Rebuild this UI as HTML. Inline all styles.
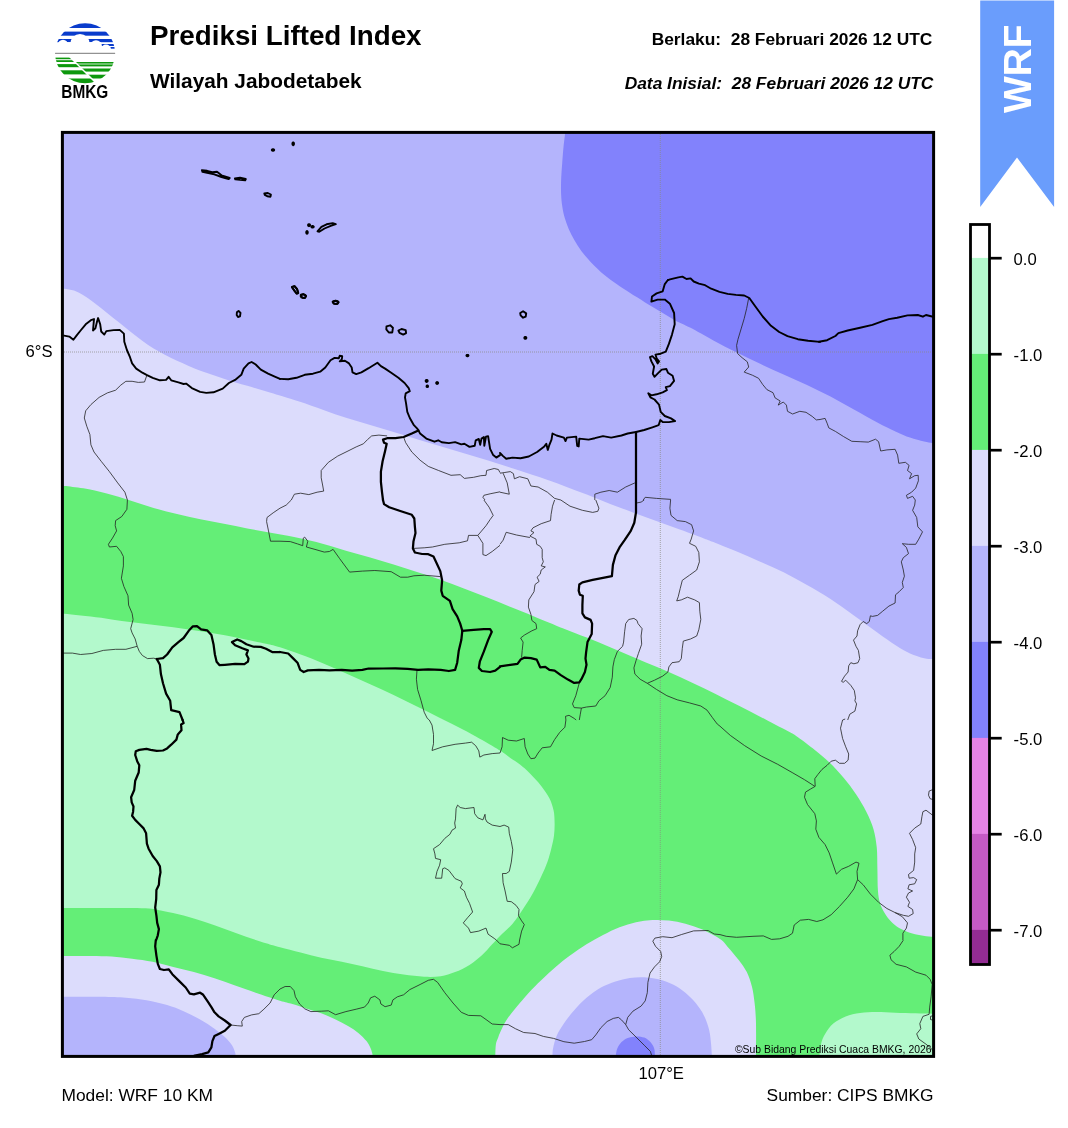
<!DOCTYPE html>
<html lang="id"><head><meta charset="utf-8"><title>Prediksi Lifted Index</title>
<style>
html,body{margin:0;padding:0;background:#fff}
body{width:1068px;height:1128px;position:relative;overflow:hidden;font-family:"Liberation Sans",sans-serif;color:#000}
.t{position:absolute;white-space:pre;line-height:1;margin:0}
svg{position:absolute;left:0;top:0}
svg text{font-family:"Liberation Sans",sans-serif;fill:#000}
</style></head><body>
<svg width="1068" height="1128" viewBox="0 0 1068 1128">
<defs><clipPath id="mapclip"><rect x="62" y="132" width="872" height="925"/></clipPath>
<clipPath id="logoclip"><circle cx="85.1" cy="53.3" r="30"/></clipPath><clipPath id="lgl"><path d="M50 54H66L97 85H50Z"/></clipPath><clipPath id="lgr"><path d="M68 54H120V85H99Z"/></clipPath></defs>
<g clip-path="url(#mapclip)">
<rect x="60" y="130" width="876" height="929" fill="#64ee77"/>
<path d="M58 485.6C59 485.7 60 485.4 64.2 485.9C68.4 486.3 76.3 487.1 83.4 488.3C90.5 489.6 99 491.4 106.8 493.4C114.6 495.4 122.4 498 130.2 500.4C138 502.8 145.8 505.6 153.6 507.9C161.4 510.2 169.2 512.1 177 514C184.8 515.9 192.6 517.6 200.4 519.2C208.2 520.8 216.1 522.2 223.9 523.8C231.7 525.3 239.5 527 247.3 528.5C255.1 530 262.9 531.3 270.7 532.7C278.5 534.1 285.3 535.1 294.1 537C302.9 538.9 314.6 541.6 323.4 543.9C332.2 546.2 339 548.6 346.8 550.9C354.6 553.2 362.4 555.2 370.2 557.5C378 559.8 385.8 562.1 393.6 564.5C401.4 566.9 409.2 569.5 417 572C424.8 574.5 432.7 577 440.5 579.7C448.3 582.4 456.1 585.4 463.9 588.4C471.7 591.4 479.5 594.4 487.3 597.5C495.1 600.6 502.9 603.9 510.7 607C518.5 610.1 525.3 612.8 534.1 616.4C542.9 620 554.6 624.9 563.4 628.4C572.2 631.9 579 634.5 586.8 637.6C594.6 640.8 602.4 644 610.2 647.3C618 650.6 625.8 653.9 633.6 657.2C641.4 660.5 649.2 663.7 657 667C664.8 670.3 672.7 673.7 680.5 677.2C688.3 680.8 696.1 684.5 703.9 688.3C711.7 692.1 719.5 696.1 727.3 700C735.1 703.9 742.9 707.7 750.7 711.7C758.5 715.7 767.6 720.6 774.1 724C780.6 727.4 786 730 790 732.3C794 734.5 794.2 734.6 798.3 737.5C802.4 740.4 809.6 745.8 814.8 749.9C819.9 754 824.4 757.6 829.2 762.2C834 766.8 839.1 772.4 843.6 777.7C848.1 783 852.2 788.5 856 794.2C859.8 799.9 863.4 805.9 866.3 811.7C869.2 817.5 871.8 823.2 873.5 829.2C875.2 835.2 876.1 841.1 876.8 847.7C877.4 854.3 877.2 861.8 877.4 868.9C877.6 876 877.5 884.5 877.9 890.2C878.3 895.9 878.9 899.3 880 903C881.1 906.7 882.5 909.6 884.3 912.6C886.1 915.6 888.1 918.5 890.6 921.1C893.1 923.7 895.9 926.2 899.1 928.1C902.3 930 906.2 931.6 909.8 932.8C913.3 934 916.8 934.6 920.4 935.3C924 936 928.6 936.5 931.5 936.8C934.4 937.1 936.9 937.1 938 937.2L938 128L58 128Z" fill="#dcdcfc"/>
<path d="M58 287.5C59 287.7 61.5 288.2 64.2 288.7C66.9 289.2 70.8 289.4 74 290.5C77.2 291.6 79.9 293.1 83.4 295.2C86.9 297.3 91.2 300.5 95.1 303.4C99 306.3 102.9 309.7 106.8 312.8C110.7 315.9 114.6 319 118.5 322.1C122.4 325.2 126.3 328.4 130.2 331.5C134.1 334.6 138 337.6 141.9 340.4C145.8 343.2 149.7 346 153.6 348.4C157.5 350.8 161.4 352.8 165.3 354.9C169.2 357 173.1 359 177 360.8C180.9 362.6 184.8 364.2 188.7 365.9C192.6 367.6 196.5 369.3 200.4 370.8C204.3 372.3 208.3 373.5 212.2 374.8C216.1 376.1 220 377.5 223.9 378.8C227.8 380.1 231.7 381.3 235.6 382.5C239.5 383.7 243.4 384.7 247.3 385.8C251.2 386.9 255.1 388.1 259 389.3C262.9 390.5 266.8 391.6 270.7 392.8C274.6 394 277.5 394.8 282.4 396.3C287.3 397.8 293.2 399.5 300 401.8C306.8 404.1 315.6 407.2 323.4 409.9C331.2 412.6 339 415.6 346.8 418.1C354.6 420.6 362.4 422.8 370.2 425.1C378 427.4 385.8 429.8 393.6 432.1C401.4 434.5 409.2 436.9 417 439.2C424.8 441.5 432.7 443.9 440.5 446.2C448.3 448.5 456.1 450.9 463.9 453.2C471.7 455.5 479.5 457.8 487.3 460.2C495.1 462.6 501.9 464.9 510.7 467.7C519.5 470.5 531.2 474.2 540 477.2C548.8 480.2 555.6 482.8 563.4 485.7C571.2 488.6 579 491.6 586.8 494.6C594.6 497.7 602.4 501 610.2 504C618 507 625.8 509.8 633.6 512.7C641.4 515.6 649.2 518.4 657 521.3C664.8 524.1 672.7 526.9 680.5 529.8C688.3 532.6 698.4 536.4 703.9 538.4C709.4 540.4 707.9 539.8 713.4 542C718.9 544.2 729 548.3 736.8 551.6C744.6 554.9 752.4 558.2 760.2 561.7C768 565.2 775.8 568.4 783.6 572.3C791.4 576.2 799.2 580.5 807 585C814.8 589.5 822.7 593.9 830.5 599C838.3 604.1 846.1 609.9 853.9 615.5C861.7 621.1 870.3 627.5 877.3 632.5C884.3 637.5 890.5 642.1 896 645.6C901.5 649.1 905.3 651.4 910 653.5C914.7 655.6 920.4 657.3 924.1 658.2C927.8 659.1 930 658.8 932.3 659C934.6 659.2 937 659.2 938 659.2L938 128L58 128Z" fill="#b4b4fc"/>
<path d="M565.3 128C565.3 129 565.3 131 565 134C564.8 137 564.1 141.3 563.6 146C563.1 150.7 562.7 156.6 562.3 161.9C561.9 167.2 561.4 172.6 561.2 177.9C561 183.2 560.9 189 561.1 193.8C561.3 198.6 561.7 202.6 562.3 206.6C562.9 210.6 563.6 214.1 564.7 217.8C565.8 221.5 567.1 225.2 568.7 228.9C570.3 232.6 572.2 236.4 574.3 240.1C576.4 243.8 578.7 247.6 581.5 251.3C584.3 255 587.4 258.5 591.1 262.4C594.8 266.2 599.5 270.8 603.8 274.4C608 278 612.3 281 616.6 284C620.9 287 624.6 289.5 629.4 292.6C634.1 295.7 640 299.2 645.1 302.4C650.2 305.5 655.2 308.5 660.2 311.5C665.2 314.5 670.2 317.8 675.2 320.5C680.2 323.2 683.6 324.3 690 327.6C696.4 330.9 705.6 336.2 713.4 340.4C721.2 344.6 729 348.7 736.8 352.6C744.6 356.5 752.4 360.2 760.2 363.8C768 367.4 775.8 370.9 783.6 374.4C791.4 377.9 799.2 381.2 807 384.9C814.8 388.6 822.7 392.5 830.5 396.6C838.3 400.7 846.1 405.2 853.9 409.5C861.7 413.8 870.3 418.7 877.3 422.4C884.3 426.1 890.5 429.2 896 431.7C901.5 434.2 905.3 436 910 437.6C914.7 439.2 920.4 440.7 924.1 441.6C927.8 442.5 930 442.7 932.3 443C934.6 443.3 937 443.2 938 443.2L938 128Z" fill="#8282fc"/>
<path d="M58 613.5C59 613.5 60.3 613.4 64.1 613.7C67.9 614 74.4 614.7 80.6 615.4C86.8 616.1 94.3 616.8 101.2 617.8C108.1 618.8 114.9 620.1 121.8 621.1C128.7 622.1 135.5 622.8 142.4 623.6C149.3 624.4 156.1 625.2 163 626.1C169.9 627 176.7 627.8 183.6 628.7C190.5 629.7 197.3 630.7 204.2 631.8C211.1 632.9 217.9 634 224.8 635.3C231.7 636.6 238.5 638.1 245.4 639.5C252.3 640.9 260.2 642.5 266 643.8C271.8 645.1 274.3 645.5 280 647.3C285.7 649 292.8 651.6 300 654.3C307.2 657 315.6 660.2 323.4 663.4C331.2 666.6 339 670.2 346.8 673.7C354.6 677.2 362.4 680.8 370.2 684.3C378 687.8 385.8 691.3 393.6 695C401.4 698.7 409.2 702.6 417 706.5C424.8 710.4 432.7 714.3 440.5 718.2C448.3 722.1 456.1 726 463.9 730.1C471.7 734.2 481.3 739.6 487.3 743C493.3 746.4 496.1 748.1 500 750.6C503.9 753.1 507.4 755.9 510.7 758.2C514 760.5 516.9 762 520 764.5C523.1 767 526 769.4 529.5 773C533 776.6 537.9 781.7 541.2 785.9C544.5 790.1 547.3 794.2 549.4 798.3C551.5 802.4 552.7 806.5 553.6 810.6C554.5 814.7 554.5 818.9 554.6 823C554.7 827.1 554.5 831.3 554 835.4C553.5 839.5 552.6 843.2 551.5 847.7C550.4 852.2 549.1 857.3 547.4 862.1C545.7 866.9 543.6 871.5 541.2 876.6C538.8 881.8 536.1 887.5 533 893C529.9 898.5 526.1 904.4 522.7 909.5C519.3 914.6 516.2 919.5 512.4 923.9C508.6 928.3 503.4 932.6 500 936C496.6 939.4 495.2 941.1 492.2 944.3C489.2 947.5 485.7 951.8 481.9 955.2C478.1 958.6 474 962.1 469.5 964.9C465 967.7 459.9 970.2 455.1 972.1C450.3 974 445.9 975.4 440.7 976.2C435.5 977 430.4 977.1 424.2 976.8C418 976.5 410.5 975.5 403.6 974.6C396.7 973.7 389.9 972.5 383 971.1C376.1 969.7 369.3 967.8 362.4 966.3C355.5 964.8 348.7 963.2 341.8 961.8C334.9 960.4 328.1 959.2 321.2 957.7C314.3 956.2 307.5 954.2 300.6 952.5C293.7 950.8 285.8 948.7 280 947.2C274.2 945.7 271.8 945.1 266 943.3C260.2 941.5 252.3 938.9 245.4 936.5C238.5 934.1 231.7 931.5 224.8 929C217.9 926.5 211.1 924 204.2 921.8C197.3 919.6 190.5 917.4 183.6 915.6C176.7 913.8 169.3 912.2 163 911C156.7 909.8 155.8 908.7 145.5 908.2C135.2 907.7 114.8 908 101.2 908C87.6 908 71.2 908 64 908C56.8 908 59 908 58 908Z" fill="#b3f9cc"/>
<path d="M58 956C59 956 58.6 956 64.1 956C69.6 956 83 955.9 90.9 956C98.8 956.1 104.6 956.1 111.5 956.6C118.4 957.1 125.2 957.8 132.1 958.7C139 959.6 145.8 960.4 152.7 961.8C159.6 963.2 166.4 965.2 173.3 966.9C180.2 968.6 187 970.2 193.9 972.1C200.8 974 207.6 976.1 214.5 978.3C221.4 980.5 228.2 983.1 235.1 985.5C242 987.9 248.2 990.2 255.7 992.7C263.2 995.2 273.9 998.8 280 1000.7C286.1 1002.6 287.9 1002.6 292.4 1004C296.9 1005.4 302 1007.2 306.8 1008.8C311.6 1010.3 316.4 1011.5 321.2 1013.3C326 1015.1 331.1 1017.4 335.6 1019.5C340.1 1021.6 344.2 1023.9 348 1026.1C351.8 1028.3 355.2 1030.4 358.3 1032.9C361.4 1035.4 364.4 1038.5 366.5 1041.1C368.6 1043.7 369.6 1045.9 370.6 1048.3C371.6 1050.7 372.3 1053.4 372.7 1055.5C373.1 1057.6 372.9 1060.1 373 1061L58 1061Z" fill="#dcdcfc"/>
<path d="M58 996.8C59 996.8 56.9 996.8 64.1 996.8C71.3 996.8 90.9 996.6 101.2 996.8C111.5 997 118.4 997.2 125.9 997.8C133.5 998.4 139.6 999.1 146.5 1000.3C153.4 1001.5 160.9 1003.3 167.1 1005.1C173.3 1006.9 178.1 1008.8 183.6 1011.2C189.1 1013.6 194.9 1016.6 200.1 1019.5C205.2 1022.4 210.4 1025.8 214.5 1028.7C218.6 1031.6 221.9 1034.2 224.8 1037C227.7 1039.8 230.3 1042.6 232 1045.2C233.7 1047.8 234.5 1050.7 235.1 1052.4C235.7 1054.1 235.4 1054.1 235.5 1055.5C235.6 1056.9 235.6 1060.1 235.6 1061L58 1061Z" fill="#b4b4fc"/>
<path d="M495.2 1061C495.2 1060.1 495.2 1058.3 495.3 1055.5C495.4 1052.7 495.4 1047.3 495.9 1044.2C496.4 1041.1 497.7 1038.9 498.4 1037C499.1 1035.1 498.7 1035.5 500 1032.8C501.3 1030 503.4 1024.8 506.2 1020.5C508.9 1016.2 512.7 1011.7 516.5 1007.1C520.3 1002.5 524.7 997.2 528.8 992.7C532.9 988.2 536.7 984.6 541.2 980.3C545.7 976 550.8 971.1 555.6 967C560.4 962.9 564.9 959.4 570 955.6C575.1 951.8 581 947.7 586.5 944.3C592 940.9 597.5 937.9 603 935C608.5 932.1 614 929.3 619.5 927.2C625 925.1 630.5 923.4 636 922.2C641.5 921 646.9 920.3 652.4 920C657.9 919.7 663.4 920 668.9 920.6C674.4 921.2 679.9 922.2 685.4 923.7C690.9 925.2 696.1 926.8 701.9 929.3C707.7 931.8 715.6 936 720 939C724.4 942 725.1 943.9 728.2 947.4C731.3 950.9 735.4 955.6 738.5 959.7C741.6 963.8 744.6 967.6 746.8 972.1C749 976.6 750.6 981.4 751.9 986.5C753.2 991.6 753.9 996.8 754.6 1003C755.3 1009.2 755.8 1014.9 756 1023.6C756.2 1032.3 756 1049.3 756 1055.5C756 1061.7 756 1060.1 756 1061Z" fill="#dcdcfc"/>
<path d="M552.4 1061C552.4 1060.1 552.4 1057.6 552.5 1055.5C552.6 1053.4 552.4 1051.5 553.1 1048.3C553.8 1045 554.8 1040.1 556.6 1036C558.4 1031.9 561 1027.9 563.9 1023.6C566.8 1019.3 570.4 1014.5 574.2 1010.2C578 1005.9 582 1001.6 586.5 997.8C591 994 596.1 990.2 600.9 987.5C605.7 984.8 610.6 983 615.4 981.4C620.2 979.8 625 978.6 629.8 977.9C634.6 977.2 639.4 977 644.2 977.2C649 977.4 653.8 978.1 658.6 979.3C663.4 980.5 668.5 982.3 673 984.5C677.5 986.7 681.6 989.6 685.4 992.7C689.2 995.8 692.6 999.2 695.7 1003C698.8 1006.8 701.7 1010.9 703.9 1015.4C706.1 1019.9 707.9 1025 709.1 1029.8C710.3 1034.6 710.7 1039.9 711.1 1044.2C711.5 1048.5 711.7 1052.7 711.8 1055.5C711.9 1058.3 711.9 1060.1 711.9 1061Z" fill="#b4b4fc"/>
<path d="M615.7 1061C615.7 1060.1 615.5 1057.6 615.8 1055.5C616.1 1053.4 616.4 1050.5 617.4 1048.3C618.4 1046.1 619.8 1043.8 621.5 1042.1C623.2 1040.4 625.3 1039 627.7 1038C630.1 1037 633.2 1036.5 636 1036.4C638.8 1036.3 641.8 1036.6 644.2 1037.6C646.6 1038.5 648.8 1040.3 650.4 1042.1C652 1043.9 653.4 1046.1 654.1 1048.3C654.9 1050.5 654.8 1053.4 654.9 1055.5C655 1057.6 655 1060.1 655 1061Z" fill="#8282fc"/>
<path d="M819.4 1061C819.4 1060.1 819.2 1058.3 819.5 1055.5C819.8 1052.7 820 1047.8 820.9 1044.2C821.8 1040.6 823 1037.3 825.1 1033.9C827.2 1030.5 829.9 1026.5 833.3 1023.6C836.7 1020.7 841.2 1018.2 845.7 1016.4C850.2 1014.6 855 1013.6 860.1 1012.9C865.2 1012.1 870.8 1011.9 876.6 1011.9C882.4 1011.9 888.6 1012.5 895.1 1012.7C901.6 1012.9 909.5 1013.1 915.7 1013.3C921.9 1013.5 928.5 1013.6 932.2 1013.7C935.9 1013.8 937 1013.8 938 1013.8L938 1061Z" fill="#b3f9cc"/>
<path d="M62 352H934M660.3 132V1057" stroke="#8a8a80" stroke-opacity=".7" stroke-width="1" stroke-dasharray="1 1" fill="none"/>
<g fill="none" stroke="#222" stroke-width="0.8" stroke-linejoin="round">
<path d="M146.9 375.2L144.5 382L138.3 382.4L132.1 381.3L125.9 381.3L120.8 385.1L115.6 390.2L107.4 392.9L99.1 397.4L90.9 404.6L85.7 410.8L84.3 418L86.8 426.3L89.9 434.5L90.9 444.8L94 452L101.2 461.3L109.4 471.6L117.7 482.9L124.9 492.2L127.4 500"/>
<path d="M387.1 435.9L378.9 435.1L371.7 435.9L367.5 439.6L363.4 443.8L356.2 446.9L348 451L337.7 456.1L328.4 462.3L321.2 470.5L321.2 477.8L322.6 485L323.7 491.1L317.1 492.2L308.8 494.6L300.6 493.2L294.4 494.2L291.3 500"/>
<path d="M403.6 437L405.7 442.7L411.8 452L420.1 460.2L428.3 466.4L438.6 470.5L451 475.3L460.2 474.7L464.4 478.4L473.6 477.3L480.8 475.7L486 475.3L486.6 470.5L494.2 468.5L498.4 469.5L500 472.6"/>
<path d="M500 491.8L490.1 493.8L483.9 495.3L482.9 497.3L485 500"/>
<path d="M500 473.2L504.1 472.6L510.3 471.6L513.4 473.6L514.4 478.8L519.6 476.7L527.8 478.8L530.9 486L538.1 487L547.4 492.2L554.6 498.4L560.8 500"/>
<path d="M503.1 473.2L507.2 482.9L509.3 494.2L500 492.2"/>
<path d="M594.8 500L594.8 494.2L600.9 492.2L609.2 490.5L617.4 492.2L625.7 487L634.9 482.9"/>
<path d="M643.2 500L645.2 497.3L656.6 498.4L671 499.4"/>
<path d="M748.7 298L746.7 308.3L744.2 318.6L741.1 328.9L738 339.2L736.6 345.4L737.6 353.6L742.1 357.7L747.3 361.8L748.7 367L744.2 372.1L752.4 375.2L758.6 378.3L762.7 384.5L766.9 389.6L773 392.7L775.1 397.9L780.2 401L778.2 405.1L783.3 402L786.4 405.1L787.5 411.3L792.6 414L799.8 411.3L806 412.3L812.2 416.4L816.3 419.9L820 419.5"/>
<path d="M819.9 419.5L825.1 418.4L827.1 423.2L828.8 427.9L835.4 431.4L843.6 436.6L851.8 441.3L860.1 441.7L868.3 442.1L875.5 439.2L878.6 441.7L880.7 451L886.9 449.9L895.1 449.3L897.6 455.1L898.8 463.3L905.4 462.3L909.1 465.4L907.5 470.5L911.6 473.6L909.5 478.8L914.7 475.7L918.2 475.3L918.4 480.8L915.7 488.1L911.6 492.2L906.4 495.3L907.5 498.4L912.6 496.3L915.3 500"/>
<path d="M127.4 500L126.9 509.3L121.8 516.5L115.6 520.6L115.2 525.7L116.6 530.9L112.5 538.1L108.4 544.3L109.4 547L116.6 546.3L120.8 551.5L123.4 556.6L123.4 565.9L121.4 578.3L123.9 586.5L128 595.8L128.6 605.1L132.1 613.3L133.1 619.5L130.7 628.7L132.1 632.9L135.2 639L137.2 646.3L139.3 651.4L142.4 655.5L147.5 658.6L153.7 658.2L156.8 659"/>
<path d="M137.2 646.3L125.9 649.3L115.6 649.3L103.3 650.4L91.9 653.5L80.6 654.5L72.4 653.1L62.1 653.1"/>
<path d="M280 508.2L273.2 512.8L267 517.5L266.6 521.6L268.5 530.9L270.5 541.2L280 541.2"/>
<path d="M280 541.2L290.3 541.6L297.5 543.9L302.7 545.7L303.3 538.1L304.7 537.1L307.8 541.2L306.4 547L315 549.4L324.3 552.1L329.4 551.5L333.1 549.4L339.7 558.7L349.6 572.1L362.4 571.1L374.8 570.5L391.2 571.7L400.5 577.2L407.7 577.2L413.9 575.8L424.2 575.2L440.3 576.6"/>
<path d="M413.5 548.4L424.2 547.8L432.4 547L444.8 544.3L459.2 542.8L467.5 540.8L468.5 535.4L477.8 535.4L480.8 531.9L486 525.7L490.1 519.6L493.2 515.4L489.1 507.2L483.9 500"/>
<path d="M477.8 535.4L482.9 543.3L482.9 554.6L486 555.6L492.2 551.5L500 545.3"/>
<path d="M417 669.9L416.4 679.2L417.6 689.5L421.1 700.8L424.2 712.2L427.3 718.4L429.3 720"/>
<path d="M280 508.2L286.2 505.1L291.3 500"/>
<path d="M554.6 500L552.5 506.2L551.1 514.4L550.5 520.6L541.2 523.7L533 527.8L530.9 530.9L534 532.5L529.9 536L536 539.1L536.7 544.3L540.2 546.3L542.2 549.4L542.2 557.7L543.3 561.8L541.2 565.9L545.3 566.9L541.2 570L540.2 574.2L537.1 577.2L539.1 581.4L535 584.5L534 591.7L528.8 599.9L528.4 607.1L530.9 614.3L531.9 620.5L536 623.6L536.7 628.7L531.9 630.8L524.7 634.9L520.6 638L523.1 642.1L522.2 650.4L521.6 657.6"/>
<path d="M500 544.3L503.1 540.2L506.2 532.3L516.5 535L529.9 537.5"/>
<path d="M560.8 500L570 506.2L582.4 510.3L592.7 512.4L597.8 511.3L598.9 508.2L595.8 500"/>
<path d="M636 503.1L641.1 502.1L644.2 500"/>
<path d="M670.6 500L669.9 508.2L671 515.4L677.2 520.6L685.4 521.6L691.6 524.7L693.6 530.9L691.2 539.1L689.5 543.3L695.7 546.3L698.8 552.5L699.4 561.8L696.7 570L689.5 575.2L682.3 580.3L680.2 588.6L678.2 596.8L676.7 600.9L681.3 599.9L687.5 597.2L694.7 599.9L699.4 602.6L699.8 611.2L700.8 619.5L698.8 629.8L696.7 636L690.5 639L683.3 641.1L682.3 648.3L681.3 658.6L679.2 661.7L672 662.7L668.9 666.9L667.9 672L662.7 676.1L654.5 680.2L647.3 683.3"/>
<path d="M579.3 682.9L575.8 695.7L572.5 703.9L574.2 707.6L581.4 708.1L586.5 707L595.8 706L598.9 700.8L605.1 695.7L610.2 687.5L612.3 677.2L612.9 666.9L614.3 659.6L617.4 651.4L622.6 646.3L623.6 642.1L624.6 631.8L625.7 623.6L628.7 619.5L633.9 618.4L637 620.5L638 623.6L642.1 628.7L641.1 636L641.7 644.2L638.4 653.5L636 660.7L633.9 667.9L634.9 674.1L640.1 679.2L647.3 683.3L656.6 689.5L666.9 695.7L677.2 699.8L689.5 702.9L700.8 706L707 710.1L712.2 717.3L714.2 720"/>
<path d="M581.4 708.1L580.3 714.2L579.3 720"/>
<path d="M565.9 720L565.5 716.3L569 715.3L574.2 718.4L576.2 720"/>
<path d="M915.3 500L914.7 505.1L912.6 510.3L916.7 517.5L917.8 526.8L922.5 531.9L918.8 539.1L915.7 544.3L908.5 544.3L902.3 543.7L906.4 547.4L908.5 553.6L903.3 557.7L901.3 561.8L903.3 570L904.4 576.2L902.3 582.4L903.3 587.5L899.2 591.7L895.5 594.8L895.1 603L888.9 606.1L882.7 611.2L877.6 615.4L872.4 616.4L870.4 615.8L869.3 621.5L866.7 623.6L863.2 621.5L860.1 624.6L857.6 630.8L857 636L853.5 640.1L856 646.3L858.4 650.4L859.7 658.6L858 662.7L853.9 663.8L850.8 662.7L848.7 665.8L848.1 672L844.6 676.1L841.5 681.3L843.2 682.3L845.7 680.2L850.8 685.4L854.3 690.5L855.5 697.8L854.9 700.8L856.6 703.9L854.9 711.1L849.8 714.2L847.7 720"/>
<path d="M429.3 720L432 725.1L433.5 734.4L433.5 743.7L432 750.5L442.7 746.8L455.1 744.3L465.4 743.1L471.6 742.2L475.7 745.7L478.8 750.9L479.8 757.1L483.9 755L492.2 753.6L500 753"/>
<path d="M500 826.5L492.2 825.1L487 822L485.4 818.9L485 814.3L482.9 819.9L477.8 817.8L474.7 813.7L474 807.5L465.4 808.6L460.2 807.5L457.6 805.1L456.1 808.6L455.5 818.9L454.7 823L455.5 828.1L452 830.2L449.9 834.3L444.8 838.4L439.6 844.6L433.5 848.7L434.9 853.9L435.5 858.4L440.7 859.7L439.6 865.2L437 871.4L435.5 878.2L441.7 878.2L442.7 868.7L444.8 867.9L448.9 870.4L455.1 878.6L461.3 881.3L462.3 883.8L460.2 887.9L464.4 891L466.4 897.2L469.5 903.3L472.6 912L467.5 917.8L463.3 922.9L468.5 928.1L470.5 932.6L478.8 931.1L486 928.1L488.1 934.2L494.2 938.4L496.3 940"/>
<path d="M500 753L502.1 746.8L502.5 737.5L508.2 740.2L516.5 741L524.3 738.5L525.1 746.8L527.8 754L530.9 758.7L535 758.1L538.1 753L542.2 747.8L550.5 746.8L554.6 739.6L559.7 732.4L564.9 727.2L565.9 720"/>
<path d="M500 826.5L504.1 825.1L508.7 827.1L509.3 833.3L511.3 841.5L512.8 849.8L511.3 862.1L509.3 871.4L506.2 873.5L502.5 873.5L503.1 882.7L505.1 891L507.2 901.3L511.3 901.7L516.1 905.4L519 909.5L518.5 915.7L521.6 920.8L524.3 924.6L521.6 931.1L519.6 940L519 944.3L512.4 947.8L509.3 945.3L500 943.8L496.3 940"/>
<path d="M714.2 720L717.3 724.1L720 726.2"/>
<path d="M720 726.2L730.3 735.4L744.7 745.7L761.2 756L777.7 764.3L792.1 772.5L804.5 779.7L814.8 786.3"/>
<path d="M845.2 719L842.6 720L840.5 728.2L842.6 738.5L845.7 746.8L848.7 754L848.1 760.2L844.6 763.3L839.5 763.3L835.4 760.2L831.2 761.2L827.1 765.3L822 769.4L817.8 774.6L814.8 778.7L815.2 786.3L810.6 789L805.5 792.1L804.5 797.2L807.5 804.5L814.8 813.7L816.4 820.9L815.8 829.2L818.9 837.4L825.1 844.6L829.2 852.9L832.3 862.1L836.4 874.1L841.5 869.3L848.7 866.3L856 862.1L859 863.2L857 871.4L857.6 879.6L853.9 888.9L847.7 897.2L839.5 906.4L831.2 914.7L823 919.8L816.8 921.5L808.6 919.4L800.3 920.2L794.2 925L792.5 933.2L788 936.3L779.7 938.8L771.5 939.4L763.3 935.9L753 936.3L736.5 937.3L726.2 936.3L720 934.6"/>
<path d="M857.6 879.6L863.2 884.8L870.4 894.1L878.6 902.3L886.9 908.5L895.1 912.6L903.3 915.3L908.5 916.3L913.2 913.6L912.6 909.5L907.9 906.4L909.5 902.3L906.4 897.2L908.5 893L912.6 891L907.9 888.9L909.1 884.8L914.7 883.8L916.7 879.6L913.6 877.6L909.1 878.2L908.5 874.5L913.6 870.4L914.7 862.1L914.7 853.9L915.7 847.7L912.6 839.5L909.5 833.3L914.7 828.1L920.8 824L921.9 816.8L922.9 811.7L926 810.2L934.2 816.4"/>
<path d="M895.1 912.6L902.3 916.7L907.5 922.9L906.4 928.1L902.9 933.2L902.9 940"/>
<path d="M934.2 789L929.1 791.1L928.5 795.2L930.1 798.7L934.2 799.9"/>
<path d="M230.6 1025L237.2 1025.7L242.3 1026.1L241.7 1021.5L244.4 1017.4L251.6 1014.9L258.8 1013.7L263.9 1009.2L270.1 1003L274.2 994.8L280 989"/>
<path d="M280 989L285.1 986.5L290.3 986.5L294 990.6L295.4 996.8L299.6 1004L304.7 1008.8L310.9 1011.6L321.2 1011.2L328.4 1010.8L335.6 1014.7L345.9 1011.6L356.2 1009.2L364.5 1007.1L368.2 1003L370.6 997.8L374.8 996.2L379.9 999.9L380.9 1004L385.1 1006.7L391.2 1005.1L392.9 999.9L397.4 996.8L403.6 994.8L409.8 989.6L420.1 984.5L428.3 980.3L433.5 979.3L437.6 982.4L444.8 992.7L453 1003L461.3 1012.3L468.5 1015.4L480.8 1015.8L486 1019.5L492.2 1024L500 1024.6"/>
<path d="M500 1024.6L508.2 1024.6L515.4 1028.7L523.7 1032.5L535 1033.5L543.3 1036.4L553.6 1038.4L563.9 1041.7L574.2 1043.2L584.5 1041.5L591.7 1039.7L595.8 1034.9L600.9 1027.7L607.1 1021.5L613.3 1018.4L618.4 1017.4L621.5 1019.9L625.7 1024.6L628.7 1029.8L636 1037L644.2 1045.2L650.4 1051.4L652 1056.6"/>
<path d="M625.7 1024.6L627.7 1017.4L632.9 1011.2L641.1 1006.1L645.2 1000.9L647.3 992.7L647.9 982.4L650 973.1L654.5 966.9L659.6 961.8L661.7 956.6L660.7 951.5L655.5 946.3L652.8 941.2L654.9 938.1L662.7 936.7L672 937.7L681.3 934.6L693.6 930.9L708.1 930.5L714.2 934L720 934.6"/>
<path d="M903.3 940.2L899.2 946.3L894.1 951.5L889.9 955.2L891 959.7L896.1 964.3L906.4 966.9L915.7 972.1L926 975.2L930.1 979.3L932.2 984.5L931.1 996.8L929.7 1007.1L929.1 1014.3L922.9 1016.4L919.8 1023.6L920.8 1028.7L916.7 1033.9L918.8 1039L926 1044.2L931.1 1048.3L934.2 1052.4"/>
<path d="M934.2 1015.4L930.5 1016.4L930.5 1019.5L934.2 1020.5"/>
</g>
<g fill="none" stroke="#000" stroke-width="2.25" stroke-linejoin="round" stroke-linecap="round">
<path d="M418.4 430.4L411.8 433.5L403.6 437L395.4 438.2L387.1 438.2L383 439.6L384 442.7L386.7 443.8L385.1 451L382.6 461.3L380.9 471.6L380.9 481.9L382 492.2L383 500"/>
<path d="M636 432L636 500"/>
<path d="M156.8 659L163 658.2L167.1 654.5L172.3 647.3L178.4 642.1L183.6 638L188.7 630.8L192.9 626.3L197 626.1L201.1 629.4L207.3 630.4L211.4 634.9L213.5 644.2L214.9 654.5L216.6 661.7L219.6 665.2L224.8 664.8L235.1 663.8L244.4 664.2L247.9 661.7L248.5 658.6L246.4 654.5L247.9 650.4L242.3 648.3L235.1 645.2L232 642.1L237.2 639.5L241.3 641.1L246.4 644.2L253.6 646.7L260.8 646.9L266 648.7L272.2 652L280 652"/>
<path d="M156.8 659L159.9 664.8L160.9 674.1L163 683.3L166.1 693.6L170.2 700.8L171.2 710.1L175.4 711.1L179.5 712.2L182.6 720"/>
<path d="M383 500L384 504.1L389.2 507.2L399.5 510.7L411.8 514.8L414.3 518.5L414.9 526.8L415.5 533L413.5 541.2L412.9 548.4L414.9 552.5L422.1 554L428.3 554.2L433.5 556.6L437 563.9L440.3 571.1L442.1 580.3L441.3 590.6L442.7 595.8L449.9 600.9L452.6 609.2L457.2 616.4L460.2 623.6L462.3 630.8L461.3 640.1L458.8 650.4L457.2 662.7L455.1 669.9L448.9 671L440.7 669.9L428.3 669.3L418 669.9L407.7 668.9L395.4 668.3L383 668.5L368.6 668.5L362.4 669.9L352.1 670.6L341.8 669.9L329.4 670.4L319.1 669.9L307.8 670.4L303.7 672L300.2 669.9L297.5 662.7L293.4 658.6L288.2 653.5L280 652"/>
<path d="M462.3 630.8L473.6 629.8L483.9 629.2L490.1 629.2L491.8 631.8L488.1 640.1L483.9 651.4L479.8 661.7L478.8 667.9L481.9 671L490.1 672L495.3 670.6L500 666.9"/>
<path d="M636 500L636 512.4L634.3 522.7L630.8 530.9L624.6 540.2L619.5 547.4L615.4 555.6L612.9 564.9L611.9 576.2L603 577.9L592.7 579.9L582.4 582.4L579.3 584.5L578.7 590.6L579.9 594.8L582.8 595.8L582.4 605.1L582.4 613.3L584.9 617.4L590.6 619.9L592.1 623.6L591.7 633.9L587.5 642.1L586.1 652.4L585.5 658.6L586.5 664.8L584.9 672L581.4 679.2L579.3 682.3L574.2 682.9L568 679.6L560.8 675.1L554.6 670.6L549.4 669.9L545.3 666.9L540.2 667.3L536.7 659.6L530.9 658.2L524.7 657.6L520.6 659.6L517.5 663.8L510.3 664.8L500 666.4"/>
<path d="M182.6 720L183.6 723.1L181.1 724.5L181.5 730.3L177.8 734.4L176.4 739.6L171.2 744.7L167.1 748.4L163 750.5L156.8 750.9L150.6 749.9L146.5 748.8L139.3 749.9L135.8 751.3L135.2 755L137.2 761.2L139.3 765.3L138.7 772.5L135.2 780.8L134.2 790L131.1 797.2L131.7 802.4L133.5 806.5L133.1 811.7L132.1 815.8L135.2 819.9L139.3 824L143.4 828.1L146.1 833.3L146.9 843.6L148.6 848.7L152.7 856L156.8 861.1L159.9 866.3L160.5 872.4L159.3 878.6L158.9 884.8L156.4 889.9L156.2 899.2L155.2 907.5L156.4 915.7L157.2 922.9L158.9 929.1L157.8 935.3L156.2 940"/>
<path d="M155.8 940.2L155.2 946.3L156.4 955.6L157.8 963.9L159.9 969L164 970L168.8 969.4L172.3 974.2L179.5 981.4L185.7 987.5L189.8 993.7L193.9 994.3L200.1 992.7L203.2 994.8L207.3 1000.9L211.4 1007.1L214.5 1012.3L218.6 1016.4L224.8 1020.5L230.6 1025L224.8 1030.8L218.6 1033.9L214.5 1036L212.4 1041.1L211.4 1047.3L208.3 1052.4L202.1 1054.1L194.9 1055.5L189.8 1057.6"/>
</g>
<g fill="none" stroke="#000" stroke-width="1.9" stroke-linejoin="round" stroke-linecap="round">
<path d="M64.1 335.6L69.3 336.6L73.4 339.7L76.5 335.6L80.6 330.5L85.7 324.3L90.9 320.2L94 319.1L93 330.5L95.4 328.4L97.1 321.2L98.1 318.1L100.2 324.3L101.2 331.5L104.3 334.6L106.3 331.1L113.6 330.1L119.7 329.9L123.9 333.6L124.3 341.8L126.9 350L130 357.2L132.1 363.4L136.2 368.6L142.4 372.7L146.5 374.8L152.7 377.8L159.9 380.3L166.1 379.9L168.6 376.8L171.2 380.3L178.4 382.4L183.6 384L186.1 383.6L191.8 388.1L200.1 391.9L206.3 392.9L213.5 392.3L222.7 388.6L228.9 383L235.1 379.9L241.3 374.8L243.7 368.6L248.5 363.4L251.6 362L255.7 364.5L260.8 369.6L268.1 373.7L274.2 376.4L280 378.9"/>
<path d="M280 378.9L288.2 379.3L296.5 377.8L304.7 374.8L313 373.7L320.2 371.7L325.3 367.5L330.5 360.3L334.6 357.9L338.7 358.3L339.7 355.8L342.2 356.2L341.8 359.3L339.7 361.4L344.9 360.7L349 363.4L351.7 367.5L352.5 372.3L356.2 374.1L361.4 372.3L368.6 368.2L377.4 362.8L380.9 366.1L385.1 368.6L391.2 372.7L398.4 377.8L404.6 383L408.7 388.1L409.8 391.2L405.7 393.3L405 397.4L406.1 403.6L407.3 411.8L409.8 418L413.9 425.2L417 428.3L418.4 430.4L420.1 433.5L426.3 438.6L434.5 441.7L438.2 440.3L441.7 442.3L448.9 443.1L455.1 442.1L461.3 444.4L464.4 443.8L469.5 446.9L474.7 445.8L475.7 440.3L478.8 439L480.2 444.8L481.5 438.6L483.9 437L484.3 445.8L486 436.6L488.1 436.1L490.1 448.9L493.2 455.1L496.3 457.6L500 455.1"/>
<path d="M500 453L503.1 456.1L506.2 458.8L512.4 457.6L520.6 458.2L528.8 456.5L537.1 452L544.3 446.4L546.3 443.8L547.8 449.9L549.4 444.8L551.5 439.6L552.5 433.5L556.6 435.5L563.9 437.6L565.5 441.1L566.9 437.6L576.2 436.6L577.2 445.8L578.7 446.4L579.3 438.6L588.6 439.6L594.8 438.2L603 436.1L611.2 437.6L621.5 435.5L627.7 433.5L636 432L644.2 430L652.4 427.3L658.6 425.2L660.3 420.1L662.7 422.1L668.9 422.1L675.1 421.1L671 418.4L664.8 416L660.7 411.8L659 404.6L654.5 399.5L650.4 397.4L648.3 393.3L651.4 395.4L656.6 394.3L662.7 392.3L666.9 390.2L665.8 387.1L669.9 386.1L674.1 380.9L672.6 375.8L667.9 372.7L666.4 369L661.7 369.6L657.6 373.7L654.5 376.8L652.8 373.7L654.1 366.5L651.4 361.4L650 357.2L652.4 356.2L655.5 359.3L657.6 363.4L659 361.4L656.6 358.3L655.5 354.6L660.7 353.7L665.8 351.7L668.9 343.9L672 334.6L674.7 324.3L674.1 313L669.9 303.7L664.8 299.6L657.6 299.6L651.4 301.6L652 296.5L656.6 293.4L662.7 291.3L664.8 284.1L667.9 280"/>
<path d="M668 280.1L670 279.4L678.3 277.4L682.4 276.6L686.5 279L690.6 278.4L693.7 281.5L698.9 283.6L705.1 285.2L711.2 288.7L719.5 291.8L727.7 293.9L736 294.9L744.2 295.5L749.3 298L754.5 305.2L762.7 316.5L771 325.8L779.2 332L787.5 336.1L797.8 339.2L808.1 340.8L820 341.9"/>
<path d="M818.9 341.8L827.1 340.2L835.4 336L838.4 333.1L847.7 330.5L860.1 327.8L872.4 324.9L882.7 321.2L888.9 319.1L897.2 317.7L907.5 315.4L917.8 315L922.9 316.7L926 315L934.2 317.1"/>
</g>
<g fill="none" stroke="#000" stroke-width="1.9" stroke-linejoin="round">
<path d="M294 143.8L293.8 144.8L293.2 145.2L292.6 144.8L292.4 143.8L292.6 142.8L293.2 142.4L293.8 142.8Z"/>
<path d="M274.2 150L273.9 150.6L273 150.8L272.1 150.6L271.8 150L272.1 149.4L273 149.2L273.9 149.4Z"/>
<path d="M201.9 170.2L207.1 170.8L212.2 172.2L217 171.8L221.5 175.3L229.7 178L228.7 179L221.5 177L214.3 174.3L207.1 172.8L202.5 171.8Z"/>
<path d="M234.9 178.4L240 177.8L245.8 179L245.2 180.3L240 179.9L235.3 179.4Z"/>
<path d="M264.3 193.4L267.8 193L270.9 194.5L270.5 196.7L267.2 196.3L264.8 194.9Z"/>
<path d="M310.1 225.2L309.8 225.9L309 226.2L308.3 225.9L308 225.2L308.3 224.4L309 224.1L309.8 224.4Z"/>
<path d="M313.8 226.8L313.4 227.4L312.5 227.6L311.7 227.4L311.3 226.8L311.7 226.2L312.5 226L313.4 226.2Z"/>
<path d="M307.8 232.4L307.6 233.4L307 233.8L306.4 233.4L306.2 232.4L306.4 231.4L307 230.9L307.6 231.4Z"/>
<path d="M317.5 231.3L321.4 226.8L326.6 224.3L332.7 223.1L335.8 224.1L330.7 225.8L324.5 228.5L319.3 231.8Z"/>
<path d="M291.9 287L294.6 286.1L297.3 289.6L298.3 293.1L296.7 293.8L294.6 290.7Z"/>
<path d="M300.8 294.8L303.5 294.2L306 296L304.9 298.1L302.2 297.7Z"/>
<path d="M332.7 301.6L335.8 300.8L338.5 302.2L337.3 304.1L334 303.7Z"/>
<path d="M236.9 312.3L238.6 310.9L240.5 312.9L240 316.4L238 317L236.7 315Z"/>
<path d="M291.9 287.2L294.4 286.2L296.9 288.7L298.1 292.8L296.5 293.4L294 290.3Z"/>
<path d="M306 296.1L305.2 297.4L303.3 297.9L301.4 297.4L300.6 296.1L301.4 294.8L303.3 294.2L305.2 294.8Z"/>
<path d="M338.5 302.2L337.7 303.4L335.6 303.9L333.6 303.4L332.7 302.2L333.6 301.1L335.6 300.6L337.7 301.1Z"/>
<path d="M386.5 326.3L390.2 325.3L392.9 327.8L392.3 332.5L388.8 332.5L386.3 329.4Z"/>
<path d="M398.4 330.5L401.5 329L405.7 330.1L406.1 333.1L403.2 334.6L399.5 332.9Z"/>
<path d="M468.5 355.6L468.2 356.2L467.5 356.4L466.7 356.2L466.4 355.6L466.7 355L467.5 354.8L468.2 355Z"/>
<path d="M427.7 380.9L427.4 381.7L426.7 382L425.9 381.7L425.6 380.9L425.9 380.2L426.7 379.9L427.4 380.2Z"/>
<path d="M428.1 386.3L427.9 386.9L427.3 387.1L426.7 386.9L426.5 386.3L426.7 385.7L427.3 385.5L427.9 385.7Z"/>
<path d="M438.2 383L437.9 383.7L437.2 384L436.4 383.7L436.1 383L436.4 382.3L437.2 382L437.9 382.3Z"/>
<path d="M520.2 313L523.1 311.3L526.2 313.4L525.7 316.7L523.1 317.7L520.6 315.4Z"/>
<path d="M526.4 337.9L526.1 338.6L525.3 338.9L524.6 338.6L524.3 337.9L524.6 337.2L525.3 336.9L526.1 337.2Z"/>
</g>
</g>
<rect x="62.4" y="132.4" width="871.2" height="924" fill="none" stroke="#000" stroke-width="3"/>
<text x="959" y="1052.9" font-size="10.4" text-anchor="end" transform="translate(-27.5,0)" fill="#222">©Sub Bidang Prediksi Cuaca BMKG, 2026</text>
<text x="25.6" y="356.8" font-size="16.67">6°S</text>
<text x="638.4" y="1078.9" font-size="16.67">107°E</text>
<!-- WRF ribbon -->
<path d="M980.2 0.6H1054.1V207L1017 157.6L980.2 207Z" fill="#6a9dfc"/>
<text transform="translate(1030.8,113) rotate(-90)" font-size="38.9" font-weight="bold" style="fill:#fff">WRF</text>
<rect x="971" y="257.9" width="18" height="96.5" fill="#b3f9cc"/>
<rect x="971" y="353.9" width="18" height="96.5" fill="#64ee77"/>
<rect x="971" y="449.9" width="18" height="96.5" fill="#dcdcfc"/>
<rect x="971" y="545.9" width="18" height="96.5" fill="#b4b4fc"/>
<rect x="971" y="641.9" width="18" height="96.5" fill="#8282fc"/>
<rect x="971" y="737.9" width="18" height="96.5" fill="#e683e6"/>
<rect x="971" y="833.9" width="18" height="96.5" fill="#c55ac5"/>
<rect x="971" y="929.9" width="18" height="34.3" fill="#932c93"/>
<rect x="970.5" y="224.5" width="19" height="740" fill="none" stroke="#000" stroke-width="2.8"/>
<path d="M990 258.2 H1001.7" stroke="#000" stroke-width="2.7"/>
<path d="M990 354.2 H1001.7" stroke="#000" stroke-width="2.7"/>
<path d="M990 450.2 H1001.7" stroke="#000" stroke-width="2.7"/>
<path d="M990 546.2 H1001.7" stroke="#000" stroke-width="2.7"/>
<path d="M990 642.2 H1001.7" stroke="#000" stroke-width="2.7"/>
<path d="M990 738.2 H1001.7" stroke="#000" stroke-width="2.7"/>
<path d="M990 834.2 H1001.7" stroke="#000" stroke-width="2.7"/>
<path d="M990 930.2 H1001.7" stroke="#000" stroke-width="2.7"/>
<text x="1013.6" y="264.7" font-size="16.67">0.0</text>
<text x="1013.6" y="360.7" font-size="16.67">-1.0</text>
<text x="1013.6" y="456.7" font-size="16.67">-2.0</text>
<text x="1013.6" y="552.7" font-size="16.67">-3.0</text>
<text x="1013.6" y="648.7" font-size="16.67">-4.0</text>
<text x="1013.6" y="744.7" font-size="16.67">-5.0</text>
<text x="1013.6" y="840.7" font-size="16.67">-6.0</text>
<text x="1013.6" y="936.7" font-size="16.67">-7.0</text>
<g clip-path="url(#logoclip)">
<rect x="50" y="20" width="70" height="8" fill="#0a3ccc"/>
<rect x="50" y="31.6" width="70" height="4.1" fill="#0a3ccc"/>
<rect x="50" y="39" width="70" height="3.2" fill="#0a3ccc"/>
<rect x="100" y="44" width="20" height="2" fill="#0a3ccc"/>
<rect x="104" y="47" width="20" height="1.7" fill="#0a3ccc"/>
<g fill="#fff"><circle cx="80" cy="43.6" r="9.6"/><circle cx="63" cy="45" r="5.2"/><circle cx="96" cy="46.3" r="6"/><circle cx="106" cy="49.6" r="5"/><rect x="60" y="42.2" width="41" height="8"/></g>
<path d="M55 53.3H116" stroke="#777" stroke-width="1"/>
<g clip-path="url(#lgl)" fill="#0d980d"><rect x="50" y="57.6" width="70" height="1.6"/><rect x="50" y="60.2" width="70" height="1.8"/><rect x="50" y="64.1" width="70" height="3.1"/><rect x="50" y="70.3" width="70" height="4.1"/><rect x="50" y="78.5" width="70" height="6"/></g>
<g clip-path="url(#lgr)" fill="#0d980d"><rect x="50" y="62" width="70" height="1.6"/><rect x="50" y="64.4" width="70" height="2"/><rect x="50" y="68.5" width="70" height="3.1"/><rect x="50" y="74.7" width="70" height="3.8"/></g>
</g>
<text transform="translate(61.3,98) scale(1,1.16)" font-size="15.4" font-weight="bold">BMKG</text>
</svg>
<div class="t" style="left:150px;top:19.5px;font:bold 27.78px 'Liberation Sans',sans-serif;line-height:31px">Prediksi Lifted Index</div>
<div class="t" style="left:150px;top:69px;font:bold 20.83px 'Liberation Sans',sans-serif;line-height:24px">Wilayah Jabodetabek</div>
<div class="t" style="right:135.6px;top:29px;font:bold 17.36px 'Liberation Sans',sans-serif;line-height:20px">Berlaku:  28 Februari 2026 12 UTC</div>
<div class="t" style="right:134.6px;top:73px;font:italic bold 17.36px 'Liberation Sans',sans-serif;line-height:20px">Data Inisial:  28 Februari 2026 12 UTC</div>
<div class="t" style="left:61.5px;top:1085px;font:17.36px 'Liberation Sans',sans-serif;line-height:20px">Model: WRF 10 KM</div>
<div class="t" style="right:134.5px;top:1085px;font:17.36px 'Liberation Sans',sans-serif;line-height:20px">Sumber: CIPS BMKG</div>
</body></html>
